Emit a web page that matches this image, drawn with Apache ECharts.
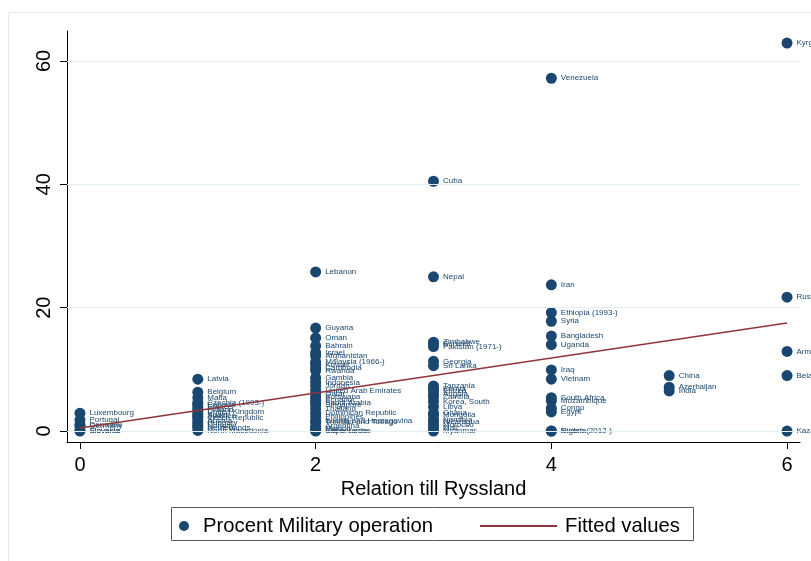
<!DOCTYPE html>
<html>
<head>
<meta charset="utf-8">
<script src="https://cdn.jsdelivr.net/npm/echarts@6/dist/echarts.min.js"></script>
<style>
  html, body { margin: 0; padding: 0; background: #fff; }
  #chart { width: 811px; height: 561px; }
</style>
</head>
<body>
<div id="chart"></div>
<script>
// country labels, relation to Russia (x) and share of military operations (y)
var countries = [
  'Luxembourg', 'Portugal', 'Denmark', 'Germany', 'Slovakia', 'Slovenia',
  'Latvia', 'Belgium', 'Malta', 'Czechia (1993-)', 'Canada', 'France', 'Finland',
  'United Kingdom', 'Spain', 'Sweden', 'Czech Republic', 'Austria', 'Hungary',
  'Norway', 'Netherlands', 'North Macedonia',
  'Lebanon', 'Guyana', 'Oman', 'Bahrain', 'Israel', 'Afghanistan', 'Malaysia (1966-)',
  'Kuwait', 'Cambodia', 'Rwanda', 'Gambia', 'Indonesia', 'Jordan', 'United Arab Emirates',
  'Qatar', 'Botswana', 'Ecuador', 'Saudi Arabia', 'Singapore', 'Thailand',
  'Dominican Republic', 'Philippines', 'Bosnia and Herzegovina', 'Trinidad and Tobago',
  'Argentina', 'Mexico', 'Cape Verde', 'Sierra Leone',
  'Cuba', 'Nepal', 'Zimbabwe', 'Burundi', 'Pakistan (1971-)', 'Georgia', 'Sri Lanka',
  'Tanzania', 'Kenya', 'Eritrea', 'Angola', 'Zambia', 'Korea, South', 'Libya', 'Ghana',
  'Mongolia', 'Namibia', 'Nicaragua', 'Morocco', 'Mali', 'Myanmar',
  'Venezuela', 'Iran', 'Ethiopia (1993-)', 'Syria', 'Bangladesh', 'Uganda', 'Iraq',
  'Vietnam', 'South Africa', 'Mozambique', 'Congo', 'Egypt', 'Nigeria', 'Sudan (2012-)',
  'China', 'Azerbaijan', 'India',
  'Kyrgyzstan', 'Russia', 'Armenia', 'Belarus', 'Kazakhstan'
];
var relation = [
  0, 0, 0, 0, 0, 0,
  1, 1, 1, 1, 1, 1, 1, 1, 1, 1, 1, 1, 1, 1, 1, 1,
  2, 2, 2, 2, 2, 2, 2, 2, 2, 2, 2, 2, 2, 2, 2, 2, 2, 2, 2, 2, 2, 2, 2, 2, 2, 2, 2, 2,
  3, 3, 3, 3, 3, 3, 3, 3, 3, 3, 3, 3, 3, 3, 3, 3, 3, 3, 3, 3, 3,
  4, 4, 4, 4, 4, 4, 4, 4, 4, 4, 4, 4, 4, 4,
  5, 5, 5,
  6, 6, 6, 6, 6
];
var military = [
  2.9, 1.8, 1.0, 0.8, 0.1, 0.0,
  8.4, 6.3, 5.4, 4.6, 4.3, 3.9, 3.5, 3.1, 2.7, 2.4, 2.2, 1.7, 1.3, 0.9, 0.6, 0.1,
  25.8, 16.7, 15.1, 13.8, 12.7, 12.2, 11.2, 10.8, 10.2, 9.8, 8.6, 7.9, 7.3, 6.6,
  6.1, 5.5, 5.0, 4.6, 4.2, 3.6, 2.9, 2.3, 1.6, 1.5, 0.8, 0.4, 0.1, 0.0,
  40.5, 25.0, 14.4, 14.1, 13.7, 11.3, 10.6, 7.3, 6.9, 6.6, 6.0, 5.5, 4.8, 3.9, 2.9,
  2.6, 1.9, 1.5, 1.0, 0.5, 0.0,
  57.2, 23.7, 19.2, 17.8, 15.4, 14.0, 9.9, 8.4, 5.4, 4.9, 3.7, 3.1, 0.0, 0.0,
  9.0, 7.1, 6.5,
  62.9, 21.7, 12.9, 9.0, 0.0
];
// fitted line endpoints
var fitX = [0, 6];
var fitY = [0.5, 17.5];
var xTicks = [0, 2, 4, 6];
var yTicks = [0, 20, 40, 60];

var font = "'Liberation Sans', Arial, Helvetica, sans-serif";
var navy = '#1a476f';
var maroon = '#90353b';

var points = countries.map(function (c, i) {
  return { name: c, value: [relation[i], military[i]] };
});
var fitData = fitX.map(function (x, i) { return [x, fitY[i]]; });

var chart = echarts.init(document.getElementById('chart'));
chart.setOption({
  backgroundColor: '#fff',
  animation: false,
  textStyle: { fontFamily: font },
  graphic: [
    {
      type: 'rect', z: -10, silent: true,
      shape: { x: 8.5, y: 12.5, width: 830, height: 560 },
      style: { fill: 'none', stroke: '#e2eaec', lineWidth: 1 }
    },
    {
      type: 'rect', z: 10, silent: true,
      shape: { x: 171.5, y: 507.5, width: 522, height: 33 },
      style: { fill: 'none', stroke: '#555', lineWidth: 1 }
    }
  ],
  grid: { left: 67, top: 31, width: 733, height: 411, containLabel: false },
  legend: [
    {
      left: 174, top: 511,
      itemWidth: 24, itemHeight: 10, itemGap: 0,
      textStyle: { fontSize: 20.3, color: '#000', fontFamily: font, padding: [0, 0, 0, 2] },
      data: ['Procent Military operation']
    },
    {
      left: 475, top: 511,
      itemWidth: 77, itemHeight: 2, itemGap: 0,
      icon: 'rect',
      textStyle: { fontSize: 20.3, color: '#000', fontFamily: font, padding: [0, 0, 0, 3] },
      data: ['Fitted values']
    }
  ],
  xAxis: {
    type: 'value',
    min: -0.11, max: 6.11,
    name: 'Relation till Ryssland',
    nameLocation: 'middle', nameGap: 28,
    nameTextStyle: { fontSize: 20, color: '#000', fontFamily: font },
    axisLine: { show: true, onZero: false, lineStyle: { color: '#000', width: 1 } },
    axisTick: { show: true, length: 7, customValues: xTicks, lineStyle: { color: '#000' } },
    axisLabel: { fontSize: 20, color: '#000', margin: 13, customValues: xTicks, fontFamily: font },
    splitLine: { show: false }
  },
  yAxis: {
    type: 'value',
    min: -1.78, max: 64.86,
    axisLine: { show: true, onZero: false, lineStyle: { color: '#000', width: 1 } },
    axisTick: { show: true, length: 7, customValues: yTicks, lineStyle: { color: '#000' } },
    axisLabel: { fontSize: 20, color: '#000', margin: 13, rotate: 90, customValues: yTicks, fontFamily: font },
    splitLine: { show: false }
  },
  series: [
    {
      name: 'grid',
      type: 'scatter',
      data: [],
      z: 0,
      silent: true,
      markLine: {
        silent: true,
        symbol: 'none',
        label: { show: false },
        lineStyle: { color: '#e6eff1', width: 1, type: 'solid' },
        data: yTicks.map(function (v) { return { yAxis: v }; })
      }
    },
    {
      name: 'Procent Military operation',
      type: 'scatter',
      z: 2,
      symbol: 'circle',
      symbolSize: 11,
      itemStyle: { color: navy, opacity: 1 },
      label: {
        show: true,
        position: 'right',
        distance: 4,
        formatter: '{b}',
        fontSize: 8,
        color: navy,
        fontFamily: font
      },
      data: points
    },
    {
      name: 'Fitted values',
      type: 'line',
      z: 3,
      symbol: 'none',
      lineStyle: { color: maroon, width: 1.5 },
      itemStyle: { color: maroon },
      data: fitData
    }
  ]
});
</script>
</body>
</html>
